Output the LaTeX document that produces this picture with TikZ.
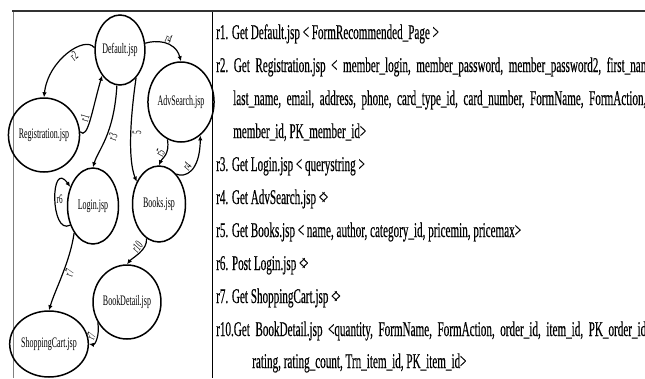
\documentclass[tikz,border=0pt]{standalone}
\usepackage{fontspec}
\setmainfont{Liberation Serif}
\newfontfamily\cond[FakeStretch=0.53,FakeBold=0.3]{Liberation Serif}
\newfontfamily\condn[FakeStretch=0.55]{Liberation Serif}
\usetikzlibrary{shapes.geometric,arrows.meta}
\begin{document}
\begin{tikzpicture}[x=1pt,y=-1pt,
  st/.style={ellipse,draw,line width=1.5pt,inner sep=0pt,font=\condn\fontsize{14.5}{16}\selectfont},
  tr/.style={-{Latex[length=5pt,width=4.5pt]},line width=1.2pt},
  lab/.style={font=\condn\fontsize{13}{14}\selectfont,sloped,inner sep=1pt},
  row/.style={anchor=base west,inner sep=0pt,font=\cond\fontsize{21}{22}\selectfont}]
\useasboundingbox (0,0) rectangle (645,378);
\fill[white] (0,0) rectangle (645,378);
\draw[line width=2.6pt,black!80] (12,11) -- (645,11);
\draw[line width=1pt,black!50] (13,12) -- (13,378);
\draw[line width=1pt] (212,12) -- (212,378);
% states
\node[st,minimum width=47pt,minimum height=70pt] (def) at (120,50) {Default.jsp};
\node[st,minimum width=62pt,minimum height=74pt] (reg) at (44,135) {Registration.jsp};
\node[st,minimum width=55pt,minimum height=80pt] (adv) at (181,102) {AdvSearch.jsp};
\node[st,minimum width=51pt,minimum height=76pt] (log) at (93,206) {Login.jsp};
\node[st,minimum width=53pt,minimum height=76pt] (bks) at (159,204) {Books.jsp};
\node[st,minimum width=55pt,minimum height=74pt] (bkd) at (127,302) {BookDetail.jsp};
\node[st,minimum width=69pt,minimum height=66pt] (shp) at (49,344) {ShoppingCart.jsp};
% transitions
\draw[tr] (def.175) .. controls (85,35) and (48,60) .. node[lab,below,pos=0.45]{r2} (reg.north);
\draw[tr] (reg.5) .. controls (88,140) and (92,110) .. node[lab,above,pos=0.5]{r1} (def.235);
\draw[tr] (def.15) .. controls (155,40) and (175,40) .. node[lab,above,pos=0.55]{r4} (adv.north);
\draw[tr] (def.265) .. controls (114,135) and (98,150) .. node[lab,below,pos=0.45]{r3} (log.north);
\draw[tr] (def.300) .. controls (130,120) and (128,160) .. node[lab,below,pos=0.45]{5} (bks.135);
\draw[tr] (adv.250) .. controls (170,155) and (162,158) .. node[lab,above,pos=0.5]{r5} (bks.north);
\draw[tr] (bks.60) .. controls (185,178) and (200,172) .. node[lab,above,pos=0.5]{r4} (adv.300);
\draw[tr] (log.220) .. controls (50,236) and (50,158) .. node[lab,right,pos=0.5,sloped=false]{r6} (log.140);
\draw[tr] (log.235) .. controls (70,262) and (55,290) .. node[lab,below,pos=0.45]{r7} (shp.north);
\draw[tr] (bks.250) .. controls (148,250) and (132,258) .. node[lab,above,pos=0.4]{r10} (bkd.north);
\draw[tr] (bkd.215) .. controls (100,335) and (95,345) .. node[lab,above,pos=0.5]{r7} (shp.east);
% text
\node[row] (t1) at (216,39) {r1. Get Default.jsp < FormRecommended\_Page >};
\node[row] (t2) at (216,72) {r2.\ \ Get\ \ Registration.jsp\ \ <\ \ member\_login,\ \ member\_password,\ \ member\_password2,\ \ first\_name,};
\node[row] (t3) at (233,105) {last\_name,\ \ email,\ \ address,\ \ phone,\ \ card\_type\_id,\ \ card\_number,\ \ FormName,\ \ FormAction,};
\node[row] (t4) at (233,138) {member\_id, PK\_member\_id>};
\node[row] (t5) at (216,171) {r3. Get Login.jsp < querystring >};
\node[row] (t6) at (216,204) {r4. Get AdvSearch.jsp <\kern-0.15em>};
\node[row] (t7) at (216,237) {r5. Get Books.jsp < name, author, category\_id, pricemin, pricemax>};
\node[row] (t8) at (216,270) {r6. Post Login.jsp <\kern-0.15em>};
\node[row] (t9) at (216,303) {r7. Get ShoppingCart.jsp <\kern-0.15em>};
\node[row] (t10) at (216,336) {r10.Get\ \ BookDetail.jsp\ \ <quantity,\ \ FormName,\ \ FormAction,\ \ order\_id,\ \ item\_id,\ \ PK\_order\_id,};
\node[row] (t11) at (252,368) {rating, rating\_count, Trn\_item\_id, PK\_item\_id>};
\end{tikzpicture}
\end{document}
